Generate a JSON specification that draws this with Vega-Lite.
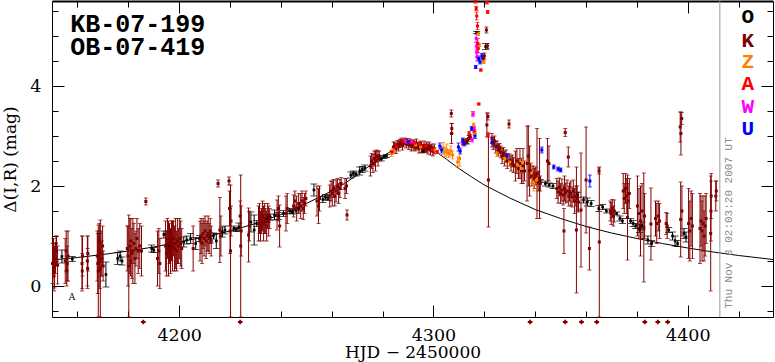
{
"$schema":"https://vega.github.io/schema/vega-lite/v6.json",
"width":721,"height":316,"autosize":"none",
"padding":{"left":52,"top":1,"right":2,"bottom":45},
"background":"white",
"config":{"view":{"stroke":null},"axis":{"grid":false,"domainColor":"#000","domainWidth":1,"tickColor":"#000","tickWidth":1,"labelColor":"#000","titleColor":"#000","labelFont":"DejaVu Serif","labelFontSize":17.5,"titleFont":"DejaVu Serif","titleFontSize":17,"titleFontWeight":"normal","labelOverlap":false,"labelFlush":false,"labelBound":false}},
"datasets":{
"curve":[{"t":4150,"m":0.52},{"t":4160,"m":0.57},{"t":4170,"m":0.63},{"t":4180,"m":0.70},{"t":4190,"m":0.78},{"t":4200,"m":0.88},{"t":4210,"m":0.98},{"t":4220,"m":1.10},{"t":4230,"m":1.25},{"t":4240,"m":1.43},{"t":4250,"m":1.65},{"t":4260,"m":1.90},{"t":4265,"m":2.05},{"t":4270,"m":2.22},{"t":4275,"m":2.41},{"t":4280,"m":2.59},{"t":4285,"m":2.75},{"t":4289,"m":2.84},{"t":4292,"m":2.87},{"t":4295,"m":2.84},{"t":4300,"m":2.72},{"t":4305,"m":2.54},{"t":4310,"m":2.35},{"t":4315,"m":2.18},{"t":4320,"m":2.02},{"t":4325,"m":1.89},{"t":4330,"m":1.76},{"t":4340,"m":1.53},{"t":4350,"m":1.35},{"t":4360,"m":1.19},{"t":4370,"m":1.06},{"t":4380,"m":0.95},{"t":4390,"m":0.85},{"t":4400,"m":0.76},{"t":4410,"m":0.68},{"t":4420,"m":0.61},{"t":4433.5,"m":0.53}],
"now":[{"t":4412.6}],
"obsO":[
{"s":"O","t":4153.9,"m":0.59,"e":0.13},{"s":"O","t":4158.0,"m":0.54,"e":0.05},{"s":"O","t":4171.2,"m":0.23,"e":0.25},{"s":"O","t":4175.8,"m":0.55,"e":0.12},{"s":"O","t":4176.8,"m":0.6,"e":0.1},{"s":"O","t":4177.5,"m":0.5,"e":0.08},{"s":"O","t":4189.2,"m":0.75,"e":0.07},{"s":"O","t":4190.0,"m":0.72,"e":0.05},{"s":"O","t":4194.0,"m":1.03,"e":0.07},{"s":"O","t":4196.0,"m":0.8,"e":0.06},{"s":"O","t":4201.8,"m":0.88,"e":0.1},{"s":"O","t":4203.0,"m":0.92,"e":0.08},{"s":"O","t":4204.5,"m":0.95,"e":0.1},{"s":"O","t":4206.5,"m":0.85,"e":0.12},{"s":"O","t":4208.0,"m":0.95,"e":0.06},{"s":"O","t":4212.2,"m":0.96,"e":0.1},{"s":"O","t":4213.5,"m":1.0,"e":0.06},{"s":"O","t":4214.6,"m":0.9,"e":0.15},{"s":"O","t":4217.0,"m":1.08,"e":0.1},{"s":"O","t":4218.0,"m":1.12,"e":0.08},{"s":"O","t":4221.5,"m":1.15,"e":0.05},{"s":"O","t":4222.5,"m":1.13,"e":0.04},{"s":"O","t":4223.5,"m":1.18,"e":0.08},{"s":"O","t":4228.2,"m":1.28,"e":0.2},{"s":"O","t":4229.5,"m":1.12,"e":0.3},{"s":"O","t":4230.5,"m":1.25,"e":0.06},{"s":"O","t":4234.5,"m":1.35,"e":0.08},{"s":"O","t":4235.8,"m":1.38,"e":0.06},{"s":"O","t":4237.5,"m":1.42,"e":0.1},{"s":"O","t":4239.0,"m":1.4,"e":0.07},{"s":"O","t":4241.0,"m":1.45,"e":0.06},{"s":"O","t":4243.5,"m":1.5,"e":0.05},{"s":"O","t":4244.5,"m":1.48,"e":0.04},{"s":"O","t":4246.0,"m":1.52,"e":0.06},{"s":"O","t":4247.0,"m":1.55,"e":0.05},{"s":"O","t":4253.0,"m":1.92,"e":0.12},{"s":"O","t":4256.5,"m":1.73,"e":0.06},{"s":"O","t":4257.5,"m":1.78,"e":0.05},{"s":"O","t":4258.5,"m":1.76,"e":0.05},{"s":"O","t":4267.5,"m":2.22,"e":0.06},{"s":"O","t":4268.5,"m":2.25,"e":0.05},{"s":"O","t":4269.5,"m":2.24,"e":0.04},{"s":"O","t":4271.0,"m":2.3,"e":0.08},{"s":"O","t":4272.0,"m":2.33,"e":0.06},{"s":"O","t":4273.0,"m":2.36,"e":0.06},{"s":"O","t":4279.5,"m":2.54,"e":0.04},{"s":"O","t":4280.5,"m":2.58,"e":0.03},{"s":"O","t":4281.5,"m":2.6,"e":0.03},{"s":"O","t":4288.5,"m":2.86,"e":0.03},{"s":"O","t":4296.0,"m":2.7,"e":0.03},{"s":"O","t":4313.0,"m":2.88,"e":0.04},{"s":"O","t":4317.0,"m":5.07,"e":0.02},{"s":"O","t":4320.5,"m":4.79,"e":0.06},{"s":"O","t":4341.0,"m":2.08,"e":0.04},{"s":"O","t":4342.0,"m":2.1,"e":0.03},{"s":"O","t":4344.0,"m":2.05,"e":0.05},{"s":"O","t":4345.5,"m":2.02,"e":0.04},{"s":"O","t":4347.0,"m":2.0,"e":0.05},{"s":"O","t":4356.5,"m":1.82,"e":0.05},{"s":"O","t":4359.0,"m":1.72,"e":0.06},{"s":"O","t":4360.5,"m":1.68,"e":0.08},{"s":"O","t":4362.0,"m":1.65,"e":0.06},{"s":"O","t":4365.0,"m":1.55,"e":0.06},{"s":"O","t":4366.5,"m":1.58,"e":0.05},{"s":"O","t":4368.0,"m":1.5,"e":0.04},{"s":"O","t":4372.0,"m":1.45,"e":0.03},{"s":"O","t":4373.3,"m":1.35,"e":0.05},{"s":"O","t":4374.3,"m":1.3,"e":0.05},{"s":"O","t":4377.5,"m":1.3,"e":0.05},{"s":"O","t":4378.5,"m":1.25,"e":0.06},{"s":"O","t":4379.5,"m":1.2,"e":0.05},{"s":"O","t":4381.0,"m":1.15,"e":0.08},{"s":"O","t":4382.0,"m":1.2,"e":0.08},{"s":"O","t":4384.3,"m":0.92,"e":0.08},{"s":"O","t":4385.8,"m":0.85,"e":0.06},{"s":"O","t":4392.5,"m":1.12,"e":0.05},{"s":"O","t":4394.0,"m":1.0,"e":0.08},{"s":"O","t":4395.0,"m":0.9,"e":0.1},{"s":"O","t":4396.0,"m":0.85,"e":0.06},{"s":"O","t":4398.5,"m":1.05,"e":0.1},{"s":"O","t":4399.3,"m":0.98,"e":0.1}],
"obs":[
{"s":"K","t":4150.2,"m":0.45,"e":0.4},{"s":"K","t":4150.6,"m":0.6,"e":0.35},{"s":"K","t":4150.8,"m":0.2,"e":0.3},{"s":"K","t":4151.0,"m":0.38,"e":0.42},{"s":"K","t":4151.4,"m":0.55,"e":0.3},{"s":"K","t":4151.6,"m":0.85,"e":0.15},{"s":"K","t":4151.8,"m":0.7,"e":0.3},{"s":"K","t":4152.2,"m":0.42,"e":0.38},
{"s":"K","t":4155.2,"m":0.5,"e":0.45},{"s":"K","t":4155.6,"m":0.7,"e":0.4},{"s":"K","t":4155.8,"m":0.3,"e":0.3},{"s":"K","t":4156.0,"m":0.45,"e":0.35},{"s":"K","t":4156.3,"m":0.6,"e":0.5},
{"s":"K","t":4161.8,"m":0.45,"e":0.55},{"s":"K","t":4161.9,"m":0.3,"e":0.35},{"s":"K","t":4162.0,"m":0.6,"e":0.4},{"s":"K","t":4163.9,"m":0.5,"e":0.5},{"s":"K","t":4164.0,"m":0.35,"e":0.4},{"s":"K","t":4164.1,"m":0.65,"e":0.35},
{"s":"K","t":4167.8,"m":0.6,"e":0.5},{"s":"K","t":4168.0,"m":0.45,"e":0.6},{"s":"K","t":4168.2,"m":0.3,"e":0.92},{"s":"K","t":4168.5,"m":0.7,"e":0.4},{"s":"K","t":4168.6,"m":0.9,"e":0.35},{"s":"K","t":4168.8,"m":0.5,"e":0.55},{"s":"K","t":4169.0,"m":0.35,"e":0.97},{"s":"K","t":4169.3,"m":0.65,"e":0.45},{"s":"K","t":4169.6,"m":0.55,"e":0.35},{"s":"K","t":4169.9,"m":0.8,"e":0.4},{"s":"K","t":4170.1,"m":0.4,"e":0.3},
{"s":"K","t":4179.6,"m":0.75,"e":0.45},{"s":"K","t":4179.9,"m":0.6,"e":0.6},{"s":"K","t":4180.2,"m":0.4,"e":1.02},{"s":"K","t":4180.6,"m":0.8,"e":0.55},{"s":"K","t":4180.9,"m":0.5,"e":0.3},{"s":"K","t":4181.0,"m":0.9,"e":0.45},{"s":"K","t":4181.4,"m":0.65,"e":0.5},{"s":"K","t":4181.8,"m":0.7,"e":0.65},{"s":"K","t":4182.2,"m":0.85,"e":0.4},{"s":"K","t":4182.6,"m":0.55,"e":0.5},{"s":"K","t":4183.0,"m":0.75,"e":0.35},{"s":"K","t":4183.4,"m":0.95,"e":0.4},{"s":"K","t":4183.9,"m":0.7,"e":0.45},{"s":"K","t":4184.5,"m":0.8,"e":0.45},{"s":"K","t":4185.2,"m":0.7,"e":0.5},{"s":"K","t":4186.9,"m":1.69,"e":0.07},
{"s":"K","t":4191.5,"m":0.55,"e":0.55},{"s":"K","t":4192.0,"m":0.7,"e":0.45},{"s":"K","t":4192.4,"m":0.45,"e":0.5},
{"s":"K","t":4194.6,"m":0.8,"e":0.5},{"s":"K","t":4195.0,"m":0.65,"e":0.45},{"s":"K","t":4195.4,"m":0.95,"e":0.4},{"s":"K","t":4195.8,"m":0.75,"e":0.55},{"s":"K","t":4196.2,"m":0.85,"e":0.4},{"s":"K","t":4196.6,"m":0.7,"e":0.45},{"s":"K","t":4197.0,"m":0.9,"e":0.4},{"s":"K","t":4197.4,"m":0.8,"e":0.5},{"s":"K","t":4197.8,"m":0.95,"e":0.35},{"s":"K","t":4198.2,"m":0.75,"e":0.45},{"s":"K","t":4198.6,"m":0.85,"e":0.5},{"s":"K","t":4199.0,"m":0.7,"e":0.4},{"s":"K","t":4199.4,"m":0.9,"e":0.45},{"s":"K","t":4199.8,"m":0.8,"e":0.35},{"s":"K","t":4200.2,"m":0.95,"e":0.4},{"s":"K","t":4200.6,"m":0.85,"e":0.45},{"s":"K","t":4201.0,"m":0.75,"e":0.4},
{"s":"K","t":4205.5,"m":0.75,"e":0.45},
{"s":"K","t":4208.2,"m":0.9,"e":0.4},{"s":"K","t":4208.6,"m":1.0,"e":0.35},{"s":"K","t":4209.0,"m":0.85,"e":0.4},{"s":"K","t":4209.4,"m":1.05,"e":0.3},{"s":"K","t":4209.8,"m":0.95,"e":0.35},{"s":"K","t":4210.2,"m":1.1,"e":0.3},{"s":"K","t":4210.6,"m":0.9,"e":0.35},{"s":"K","t":4211.0,"m":1.0,"e":0.3},{"s":"K","t":4211.4,"m":1.05,"e":0.35},{"s":"K","t":4211.8,"m":0.95,"e":0.3},{"s":"K","t":4212.2,"m":1.1,"e":0.25},{"s":"K","t":4212.6,"m":0.9,"e":0.3},
{"s":"K","t":4215.3,"m":2.05,"e":0.07},{"s":"K","t":4216.0,"m":1.12,"e":0.65},{"s":"K","t":4216.4,"m":1.0,"e":0.4},
{"s":"K","t":4219.6,"m":2.1,"e":0.08},{"s":"K","t":4219.8,"m":1.55,"e":0.35},{"s":"K","t":4220.0,"m":1.1,"e":0.45},{"s":"K","t":4220.2,"m":0.7,"e":1.32},{"s":"K","t":4220.4,"m":1.3,"e":0.3},
{"s":"K","t":4224.0,"m":1.4,"e":0.3},{"s":"K","t":4224.2,"m":0.8,"e":1.42},{"s":"K","t":4224.4,"m":1.1,"e":0.5},
{"s":"K","t":4227.3,"m":1.02,"e":0.54},{"s":"K","t":4227.6,"m":1.2,"e":0.3},
{"s":"K","t":4231.2,"m":1.25,"e":0.35},{"s":"K","t":4231.6,"m":1.35,"e":0.3},{"s":"K","t":4232.0,"m":1.2,"e":0.3},{"s":"K","t":4232.4,"m":1.3,"e":0.25},{"s":"K","t":4232.8,"m":1.4,"e":0.3},{"s":"K","t":4233.2,"m":1.25,"e":0.35},{"s":"K","t":4233.6,"m":1.35,"e":0.3},{"s":"K","t":4234.0,"m":1.3,"e":0.25},{"s":"K","t":4234.4,"m":1.2,"e":0.3},{"s":"K","t":4234.8,"m":1.4,"e":0.25},{"s":"K","t":4235.2,"m":1.3,"e":0.3},{"s":"K","t":4235.6,"m":1.35,"e":0.2},
{"s":"K","t":4238.5,"m":1.42,"e":0.3},{"s":"K","t":4239.0,"m":1.55,"e":0.25},{"s":"K","t":4239.5,"m":1.2,"e":0.42},{"s":"K","t":4242.0,"m":1.45,"e":0.35},{"s":"K","t":4242.5,"m":1.55,"e":0.3},
{"s":"K","t":4245.0,"m":1.6,"e":0.22},{"s":"K","t":4245.5,"m":1.7,"e":0.2},{"s":"K","t":4246.2,"m":1.55,"e":0.25},{"s":"K","t":4247.0,"m":1.65,"e":0.2},{"s":"K","t":4247.8,"m":1.6,"e":0.25},{"s":"K","t":4248.3,"m":1.7,"e":0.2},{"s":"K","t":4248.8,"m":1.55,"e":0.22},{"s":"K","t":4249.3,"m":1.65,"e":0.2},{"s":"K","t":4249.8,"m":1.75,"e":0.15},
{"s":"K","t":4254.2,"m":1.7,"e":0.3},{"s":"K","t":4254.8,"m":1.6,"e":0.35},{"s":"K","t":4255.2,"m":1.75,"e":0.25},
{"s":"K","t":4259.2,"m":1.8,"e":0.22},{"s":"K","t":4259.7,"m":1.9,"e":0.2},{"s":"K","t":4260.2,"m":1.85,"e":0.25},{"s":"K","t":4260.7,"m":1.95,"e":0.18},{"s":"K","t":4261.2,"m":1.8,"e":0.2},{"s":"K","t":4261.7,"m":1.9,"e":0.22},{"s":"K","t":4262.2,"m":2.0,"e":0.15},{"s":"K","t":4262.7,"m":1.85,"e":0.2},{"s":"K","t":4263.2,"m":1.95,"e":0.18},{"s":"K","t":4263.7,"m":2.05,"e":0.12},
{"s":"K","t":4265.2,"m":1.95,"e":0.2},{"s":"K","t":4265.8,"m":2.0,"e":0.15},{"s":"K","t":4266.0,"m":1.42,"e":0.1},
{"s":"K","t":4275.2,"m":2.4,"e":0.2},{"s":"K","t":4275.7,"m":2.5,"e":0.15},{"s":"K","t":4276.2,"m":2.45,"e":0.18},{"s":"K","t":4276.7,"m":2.55,"e":0.15},{"s":"K","t":4277.2,"m":2.5,"e":0.2},{"s":"K","t":4277.7,"m":2.6,"e":0.12},{"s":"K","t":4278.2,"m":2.55,"e":0.15},{"s":"K","t":4278.7,"m":2.6,"e":0.1},
{"s":"K","t":4284.3,"m":2.78,"e":0.1},{"s":"K","t":4284.8,"m":2.8,"e":0.08},{"s":"K","t":4285.3,"m":2.75,"e":0.1},{"s":"K","t":4285.8,"m":2.83,"e":0.08},{"s":"K","t":4286.3,"m":2.8,"e":0.1},{"s":"K","t":4286.8,"m":2.85,"e":0.08},{"s":"K","t":4287.3,"m":2.88,"e":0.08},{"s":"K","t":4287.8,"m":2.82,"e":0.1},{"s":"K","t":4288.3,"m":2.86,"e":0.08},{"s":"K","t":4288.8,"m":2.9,"e":0.06},{"s":"K","t":4289.3,"m":2.84,"e":0.08},{"s":"K","t":4289.8,"m":2.88,"e":0.07},{"s":"K","t":4290.3,"m":2.82,"e":0.09},{"s":"K","t":4290.8,"m":2.86,"e":0.08},{"s":"K","t":4291.3,"m":2.8,"e":0.1},{"s":"K","t":4291.8,"m":2.84,"e":0.08},{"s":"K","t":4292.3,"m":2.82,"e":0.1},{"s":"K","t":4292.8,"m":2.78,"e":0.08},{"s":"K","t":4293.3,"m":2.84,"e":0.1},{"s":"K","t":4293.8,"m":2.8,"e":0.08},{"s":"K","t":4294.3,"m":2.76,"e":0.1},{"s":"K","t":4294.8,"m":2.82,"e":0.08},{"s":"K","t":4295.3,"m":2.78,"e":0.1},{"s":"K","t":4295.8,"m":2.74,"e":0.08},{"s":"K","t":4296.3,"m":2.8,"e":0.1},{"s":"K","t":4296.8,"m":2.76,"e":0.08},{"s":"K","t":4297.3,"m":2.78,"e":0.1},{"s":"K","t":4297.8,"m":2.74,"e":0.1},{"s":"K","t":4298.3,"m":2.8,"e":0.08},{"s":"K","t":4298.8,"m":2.72,"e":0.1},{"s":"K","t":4299.3,"m":2.76,"e":0.08},{"s":"K","t":4299.8,"m":2.7,"e":0.1},{"s":"K","t":4300.3,"m":2.74,"e":0.1},
{"s":"K","t":4307.0,"m":3.45,"e":0.07},{"s":"K","t":4307.1,"m":3.05,"e":0.2},{"s":"K","t":4307.2,"m":3.15,"e":0.1},
{"s":"K","t":4312.5,"m":2.88,"e":0.06},{"s":"K","t":4313.2,"m":2.9,"e":0.05},{"s":"K","t":4313.8,"m":2.95,"e":0.06},{"s":"K","t":4314.5,"m":2.98,"e":0.05},
{"s":"K","t":4319.5,"m":4.55,"e":0.07},{"s":"K","t":4320.0,"m":4.6,"e":0.06},{"s":"K","t":4320.8,"m":5.12,"e":0.06},{"s":"K","t":4321.2,"m":4.8,"e":0.05},{"s":"K","t":4321.4,"m":3.39,"e":0.07},{"s":"K","t":4321.0,"m":3.22,"e":0.24},{"s":"K","t":4321.6,"m":2.12,"e":0.94},
{"s":"K","t":4323.0,"m":2.95,"e":0.1},{"s":"K","t":4323.5,"m":2.85,"e":0.12},{"s":"K","t":4324.0,"m":2.9,"e":0.1},{"s":"K","t":4324.5,"m":2.78,"e":0.12},{"s":"K","t":4325.0,"m":2.8,"e":0.1},{"s":"K","t":4325.5,"m":2.72,"e":0.12},{"s":"K","t":4326.0,"m":2.75,"e":0.1},{"s":"K","t":4326.5,"m":2.68,"e":0.12},{"s":"K","t":4327.0,"m":2.6,"e":0.15},{"s":"K","t":4327.5,"m":2.65,"e":0.12},{"s":"K","t":4328.0,"m":2.55,"e":0.15},{"s":"K","t":4328.5,"m":2.6,"e":0.12},{"s":"K","t":4329.0,"m":2.5,"e":0.15},{"s":"K","t":4329.7,"m":3.24,"e":0.08},{"s":"K","t":4330.0,"m":2.52,"e":0.12},{"s":"K","t":4330.5,"m":2.45,"e":0.15},{"s":"K","t":4331.0,"m":2.5,"e":0.12},{"s":"K","t":4331.5,"m":2.42,"e":0.15},
{"s":"K","t":4332.2,"m":2.4,"e":0.3},{"s":"K","t":4332.8,"m":2.5,"e":0.25},{"s":"K","t":4333.4,"m":2.35,"e":0.2},{"s":"K","t":4334.0,"m":2.45,"e":0.3},{"s":"K","t":4334.6,"m":2.3,"e":0.25},{"s":"K","t":4335.2,"m":2.4,"e":0.35},{"s":"K","t":4335.8,"m":2.3,"e":0.2},
{"s":"K","t":4336.8,"m":2.45,"e":0.75},{"s":"K","t":4337.3,"m":2.6,"e":0.6},{"s":"K","t":4337.8,"m":2.3,"e":0.5},{"s":"K","t":4338.2,"m":2.3,"e":0.15},{"s":"K","t":4338.7,"m":2.2,"e":0.2},{"s":"K","t":4339.2,"m":2.25,"e":0.15},{"s":"K","t":4339.7,"m":2.15,"e":0.2},{"s":"K","t":4340.2,"m":2.2,"e":0.18},{"s":"K","t":4340.7,"m":2.25,"e":0.9},{"s":"K","t":4341.2,"m":2.1,"e":0.2},{"s":"K","t":4341.7,"m":2.15,"e":0.8},{"s":"K","t":4342.0,"m":2.05,"e":0.15},
{"s":"K","t":4344.8,"m":2.5,"e":0.45},{"s":"K","t":4345.4,"m":2.45,"e":0.35},
{"s":"K","t":4348.5,"m":1.95,"e":0.2},{"s":"K","t":4349.0,"m":1.88,"e":0.22},{"s":"K","t":4349.5,"m":1.98,"e":0.18},{"s":"K","t":4350.0,"m":1.85,"e":0.2},{"s":"K","t":4350.5,"m":1.92,"e":0.22},{"s":"K","t":4351.0,"m":1.82,"e":0.2},{"s":"K","t":4351.3,"m":1.1,"e":0.45},{"s":"K","t":4351.5,"m":1.95,"e":0.25},{"s":"K","t":4351.8,"m":3.07,"e":0.08},{"s":"K","t":4352.0,"m":1.86,"e":0.2},{"s":"K","t":4352.5,"m":1.9,"e":0.22},{"s":"K","t":4353.0,"m":2.58,"e":0.2},{"s":"K","t":4353.2,"m":1.8,"e":0.2},{"s":"K","t":4353.5,"m":1.88,"e":0.18},
{"s":"K","t":4354.0,"m":1.85,"e":0.25},{"s":"K","t":4354.5,"m":1.78,"e":0.2},{"s":"K","t":4355.0,"m":1.9,"e":0.22},{"s":"K","t":4355.5,"m":1.7,"e":0.25},{"s":"K","t":4356.0,"m":1.8,"e":0.2},{"s":"K","t":4356.2,"m":1.12,"e":1.26},{"s":"K","t":4356.5,"m":1.75,"e":0.25},{"s":"K","t":4357.0,"m":1.68,"e":0.2},{"s":"K","t":4358.0,"m":1.52,"e":1.14},
{"s":"K","t":4360.0,"m":2.12,"e":1.06},{"s":"K","t":4361.3,"m":0.75,"e":0.43},{"s":"K","t":4365.1,"m":2.3,"e":0.06},{"s":"K","t":4365.2,"m":0.88,"e":1.5},
{"s":"K","t":4369.5,"m":1.5,"e":0.2},{"s":"K","t":4369.9,"m":1.45,"e":0.22},{"s":"K","t":4370.3,"m":1.55,"e":0.18},{"s":"K","t":4370.7,"m":1.4,"e":0.2},{"s":"K","t":4371.1,"m":1.5,"e":0.22},
{"s":"K","t":4374.6,"m":1.9,"e":0.35},{"s":"K","t":4375.0,"m":1.75,"e":0.3},{"s":"K","t":4375.5,"m":1.95,"e":0.3},{"s":"K","t":4376.0,"m":1.8,"e":0.35},{"s":"K","t":4376.3,"m":1.37,"e":0.85},{"s":"K","t":4376.5,"m":1.7,"e":0.35},{"s":"K","t":4377.0,"m":1.85,"e":0.3},
{"s":"K","t":4380.2,"m":1.6,"e":0.6},{"s":"K","t":4380.8,"m":1.45,"e":0.5},{"s":"K","t":4381.4,"m":1.3,"e":0.7},{"s":"K","t":4382.0,"m":1.5,"e":0.55},{"s":"K","t":4382.7,"m":1.17,"e":1.09},{"s":"K","t":4383.0,"m":1.4,"e":0.45},
{"s":"K","t":4385.5,"m":1.24,"e":0.72},{"s":"K","t":4387.3,"m":1.35,"e":0.35},{"s":"K","t":4387.8,"m":1.25,"e":0.4},{"s":"K","t":4388.4,"m":1.4,"e":0.3},{"s":"K","t":4388.9,"m":1.3,"e":0.35},{"s":"K","t":4391.5,"m":1.25,"e":0.22},{"s":"K","t":4391.9,"m":1.2,"e":0.25},
{"s":"K","t":4397.0,"m":3.18,"e":0.3},{"s":"K","t":4397.3,"m":3.05,"e":0.43},{"s":"K","t":4397.6,"m":3.35,"e":0.12},{"s":"K","t":4397.2,"m":1.33,"e":0.75},{"s":"K","t":4397.7,"m":1.5,"e":0.5},
{"s":"K","t":4400.3,"m":1.25,"e":0.7},{"s":"K","t":4400.8,"m":1.1,"e":0.6},{"s":"K","t":4401.3,"m":1.35,"e":0.55},{"s":"K","t":4401.8,"m":1.2,"e":0.65},
{"s":"K","t":4404.8,"m":1.15,"e":0.7},{"s":"K","t":4405.2,"m":1.3,"e":0.5},{"s":"K","t":4405.6,"m":1.1,"e":0.6},{"s":"K","t":4406.0,"m":1.25,"e":0.55},{"s":"K","t":4406.4,"m":1.0,"e":0.5},{"s":"K","t":4406.8,"m":1.2,"e":0.6},{"s":"K","t":4407.2,"m":1.35,"e":0.5},
{"s":"K","t":4409.0,"m":1.05,"e":1.15},{"s":"K","t":4409.1,"m":1.5,"e":0.6},{"s":"K","t":4409.2,"m":1.8,"e":0.45},{"s":"K","t":4411.0,"m":1.8,"e":0.3},{"s":"K","t":4411.2,"m":1.9,"e":0.2},
{"s":"Z","t":4283.5,"m":2.65,"e":0.06},{"s":"Z","t":4284.2,"m":2.72,"e":0.05},{"s":"Z","t":4289.5,"m":2.88,"e":0.04},{"s":"Z","t":4293.0,"m":2.82,"e":0.05},{"s":"Z","t":4295.0,"m":2.78,"e":0.06},{"s":"Z","t":4300.5,"m":2.72,"e":0.05},{"s":"Z","t":4303.8,"m":2.75,"e":0.12},{"s":"Z","t":4304.5,"m":2.68,"e":0.1},{"s":"Z","t":4305.2,"m":2.72,"e":0.12},{"s":"Z","t":4306.0,"m":2.65,"e":0.08},{"s":"Z","t":4306.8,"m":2.7,"e":0.1},{"s":"Z","t":4307.5,"m":2.62,"e":0.08},{"s":"Z","t":4309.5,"m":2.48,"e":0.1},{"s":"Z","t":4310.3,"m":2.55,"e":0.15},{"s":"Z","t":4315.6,"m":3.45,"e":0.04},{"s":"Z","t":4315.8,"m":3.22,"e":0.04},{"s":"Z","t":4316.2,"m":3.05,"e":0.04},{"s":"Z","t":4317.5,"m":5.04,"e":0.03},{"s":"Z","t":4318.0,"m":4.82,"e":0.03},{"s":"Z","t":4319.8,"m":4.48,"e":0.03},{"s":"Z","t":4325.0,"m":2.65,"e":0.06},{"s":"Z","t":4328.0,"m":2.55,"e":0.06},{"s":"Z","t":4330.0,"m":2.48,"e":0.08},{"s":"Z","t":4333.0,"m":2.42,"e":0.1},{"s":"Z","t":4334.5,"m":2.35,"e":0.1},{"s":"Z","t":4335.0,"m":2.47,"e":0.09},{"s":"Z","t":4338.6,"m":2.26,"e":0.2},{"s":"Z","t":4339.5,"m":2.05,"e":0.15},{"s":"Z","t":4340.5,"m":2.12,"e":0.08},
{"s":"A","t":4283.8,"m":2.68,"e":0.04},{"s":"A","t":4285.5,"m":2.78,"e":0.03},{"s":"A","t":4288.0,"m":2.9,"e":0.03},{"s":"A","t":4290.5,"m":2.87,"e":0.03},{"s":"A","t":4292.5,"m":2.86,"e":0.03},{"s":"A","t":4294.5,"m":2.84,"e":0.03},{"s":"A","t":4297.0,"m":2.8,"e":0.03},{"s":"A","t":4299.5,"m":2.72,"e":0.04},{"s":"A","t":4301.5,"m":2.68,"e":0.03},{"s":"A","t":4311.5,"m":2.85,"e":0.03},{"s":"A","t":4314.0,"m":3.05,"e":0.04},{"s":"A","t":4316.0,"m":3.1,"e":0.03},{"s":"A","t":4316.5,"m":5.69,"e":0.03},{"s":"A","t":4316.8,"m":5.55,"e":0.04},{"s":"A","t":4317.0,"m":5.4,"e":0.08},{"s":"A","t":4317.3,"m":5.2,"e":0.07},{"s":"A","t":4317.4,"m":4.85,"e":0.1},{"s":"A","t":4317.6,"m":4.75,"e":0.08},{"s":"A","t":4317.8,"m":3.64,"e":0.02},{"s":"A","t":4318.6,"m":4.32,"e":0.02},{"s":"A","t":4321.0,"m":5.67,"e":0.03},{"s":"A","t":4321.3,"m":5.48,"e":0.03},{"s":"A","t":4321.5,"m":3.02,"e":0.04},
{"s":"W","t":4289.0,"m":2.9,"e":0.03},{"s":"W","t":4291.5,"m":2.88,"e":0.03},{"s":"W","t":4315.2,"m":2.92,"e":0.04},{"s":"W","t":4315.5,"m":3.44,"e":0.05},{"s":"W","t":4316.0,"m":3.15,"e":0.04},{"s":"W","t":4316.8,"m":4.95,"e":0.08},{"s":"W","t":4316.9,"m":4.8,"e":0.08},{"s":"W","t":4317.0,"m":4.68,"e":0.1},{"s":"W","t":4317.1,"m":4.58,"e":0.08},
{"s":"U","t":4290.0,"m":2.88,"e":0.03},{"s":"U","t":4302.5,"m":2.8,"e":0.06},{"s":"U","t":4303.2,"m":2.72,"e":0.06},{"s":"U","t":4309.8,"m":2.78,"e":0.08},{"s":"U","t":4310.5,"m":2.7,"e":0.06},{"s":"U","t":4311.5,"m":2.92,"e":0.04},{"s":"U","t":4312.0,"m":2.85,"e":0.05},{"s":"U","t":4315.0,"m":3.15,"e":0.04},{"s":"U","t":4316.3,"m":3.0,"e":0.05},{"s":"U","t":4316.6,"m":4.38,"e":0.03},{"s":"U","t":4317.8,"m":4.55,"e":0.05},{"s":"U","t":4318.3,"m":4.48,"e":0.04},{"s":"U","t":4319.0,"m":4.6,"e":0.05},{"s":"U","t":4323.0,"m":2.88,"e":0.1},{"s":"U","t":4329.0,"m":2.6,"e":0.04},{"s":"U","t":4342.6,"m":2.72,"e":0.06},{"s":"U","t":4347.3,"m":2.38,"e":0.04},{"s":"U","t":4349.0,"m":2.34,"e":0.04},{"s":"U","t":4350.0,"m":2.32,"e":0.04},{"s":"U","t":4361.5,"m":2.1,"e":0.12}],
"below":[{"s":"K","t":4185.9,"m":-0.72},{"s":"K","t":4224.0,"m":-0.72},{"s":"K","t":4338.0,"m":-0.72},{"s":"K","t":4351.8,"m":-0.72},{"s":"K","t":4358.2,"m":-0.72},{"s":"K","t":4364.2,"m":-0.72},{"s":"K","t":4383.1,"m":-0.72},{"s":"K","t":4388.2,"m":-0.72},{"s":"K","t":4392.1,"m":-0.72}],
"titles":[{"txt":"KB-07-199\nOB-07-419","t":4157.2,"m":5.08}],
"date":[{"txt":"Thu Nov 8 02:03:20 2007 UT","t":4417.5,"m":1.26}],
"marks":[{"txt":"A","t":4157.9,"m":-0.28}],
"legend":[{"s":"O","t":4423.6,"m":5.26},{"s":"K","t":4423.6,"m":4.79},{"s":"Z","t":4423.6,"m":4.36},{"s":"A","t":4423.6,"m":3.92},{"s":"W","t":4423.6,"m":3.46},{"s":"U","t":4423.6,"m":3.02}]
},
"layer":[
{"data":{"name":"curve"},"mark":{"type":"line","color":"#000","strokeWidth":1},
 "encoding":{
  "x":{"field":"t","type":"quantitative","scale":{"domain":[4150,4433.5],"nice":false,"zero":false},
   "axis":{"orient":"bottom","values":[4160,4180,4200,4220,4240,4260,4280,4300,4320,4340,4360,4380,4400,4420],"format":"d","tickSize":{"condition":{"test":"datum.value % 100 === 0","value":-12},"value":-6},"labelExpr":"datum.value % 100 === 0 ? datum.label : ''","labelPadding":21,"title":"HJD − 2450000","titlePadding":-5}},
  "y":{"field":"m","type":"quantitative","scale":{"domain":[-0.62,5.7],"nice":false,"zero":false},
   "axis":{"orient":"left","values":[-0.5,0,0.5,1,1.5,2,2.5,3,3.5,4,4.5,5,5.5],"tickSize":{"condition":{"test":"datum.value % 2 === 0","value":-12},"value":-6},"labelExpr":"datum.value % 2 === 0 ? '' + datum.value : ''","labelPadding":23,"title":"Δ(I,R) (mag)","titlePadding":10}}}},
{"data":{"name":"now"},"mark":{"type":"rule","color":"#999999","strokeWidth":1},
 "encoding":{"x":{"field":"t","type":"quantitative","axis":null}}},
{"data":{"name":"obsO"},"mark":{"type":"errorbar","ticks":{"size":7},"thickness":1},
 "encoding":{"x":{"field":"t","type":"quantitative","axis":null},"y":{"field":"m","type":"quantitative","axis":null},"yError":{"field":"e"},
  "color":{"field":"s","type":"nominal","scale":{"domain":["O","K","Z","A","W","U"],"range":["#000000","#800000","#FF8000","#FF0000","#FF00FF","#0000FF"]},"legend":null}}},
{"data":{"name":"obs"},"mark":{"type":"errorbar","ticks":{"size":4},"thickness":1},
 "encoding":{"x":{"field":"t","type":"quantitative","axis":null},"y":{"field":"m","type":"quantitative","axis":null},"yError":{"field":"e"},
  "color":{"field":"s","type":"nominal","scale":{"domain":["O","K","Z","A","W","U"],"range":["#000000","#800000","#FF8000","#FF0000","#FF00FF","#0000FF"]},"legend":null}}},
{"data":{"name":"obsO"},"mark":{"type":"point","shape":"square","filled":true,"size":7,"opacity":1},
 "encoding":{"x":{"field":"t","type":"quantitative","axis":null},"y":{"field":"m","type":"quantitative","axis":null},
  "color":{"field":"s","type":"nominal","scale":{"domain":["O","K","Z","A","W","U"],"range":["#000000","#800000","#FF8000","#FF0000","#FF00FF","#0000FF"]},"legend":null}}},
{"data":{"name":"obs"},"mark":{"type":"point","shape":"square","filled":true,"size":9,"opacity":1},
 "encoding":{"x":{"field":"t","type":"quantitative","axis":null},"y":{"field":"m","type":"quantitative","axis":null},
  "color":{"field":"s","type":"nominal","scale":{"domain":["O","K","Z","A","W","U"],"range":["#000000","#800000","#FF8000","#FF0000","#FF00FF","#0000FF"]},"legend":null}}},
{"data":{"name":"below"},"mark":{"type":"point","shape":"cross","filled":true,"size":22,"opacity":1},
 "encoding":{"x":{"field":"t","type":"quantitative","axis":null},"y":{"field":"m","type":"quantitative","axis":null},
  "color":{"field":"s","type":"nominal","scale":{"domain":["O","K","Z","A","W","U"],"range":["#000000","#800000","#FF8000","#FF0000","#FF00FF","#0000FF"]},"legend":null}}},
{"data":{"name":"titles"},"mark":{"type":"text","font":"Liberation Mono","fontWeight":"bold","fontSize":25,"lineBreak":"\n","lineHeight":23,"align":"left","baseline":"alphabetic","color":"#000"},
 "encoding":{"x":{"field":"t","type":"quantitative","axis":null},"y":{"field":"m","type":"quantitative","axis":null},"text":{"field":"txt"}}},
{"data":{"name":"date"},"mark":{"type":"text","font":"Liberation Mono","fontSize":11,"angle":270,"align":"center","baseline":"alphabetic","color":"#8c8c8c"},
 "encoding":{"x":{"field":"t","type":"quantitative","axis":null},"y":{"field":"m","type":"quantitative","axis":null},"text":{"field":"txt"}}},
{"data":{"name":"marks"},"mark":{"type":"text","font":"DejaVu Serif","fontSize":9,"align":"center","baseline":"alphabetic","color":"#000"},
 "encoding":{"x":{"field":"t","type":"quantitative","axis":null},"y":{"field":"m","type":"quantitative","axis":null},"text":{"field":"txt"}}},
{"data":{"name":"legend"},"mark":{"type":"text","font":"Liberation Mono","fontWeight":"bold","fontSize":21,"align":"center","baseline":"alphabetic"},
 "encoding":{
  "x":{"field":"t","type":"quantitative","axis":{"orient":"top","values":[4160,4180,4200,4220,4240,4260,4280,4300,4320,4340,4360,4380,4400,4420],"labels":false,"title":null,"domainWidth":2,"tickSize":{"condition":{"test":"datum.value % 100 === 0","value":-12},"value":-6}}},
  "y":{"field":"m","type":"quantitative","axis":{"orient":"right","values":[-0.5,0,0.5,1,1.5,2,2.5,3,3.5,4,4.5,5,5.5],"labels":false,"title":null,"tickSize":{"condition":{"test":"datum.value % 2 === 0","value":-12},"value":-6}}},
  "text":{"field":"s"},
  "color":{"field":"s","type":"nominal","scale":{"domain":["O","K","Z","A","W","U"],"range":["#000000","#800000","#FF8000","#FF0000","#FF00FF","#0000FF"]},"legend":null}}}
],
"resolve":{"axis":{"x":"independent","y":"independent"}}
}
